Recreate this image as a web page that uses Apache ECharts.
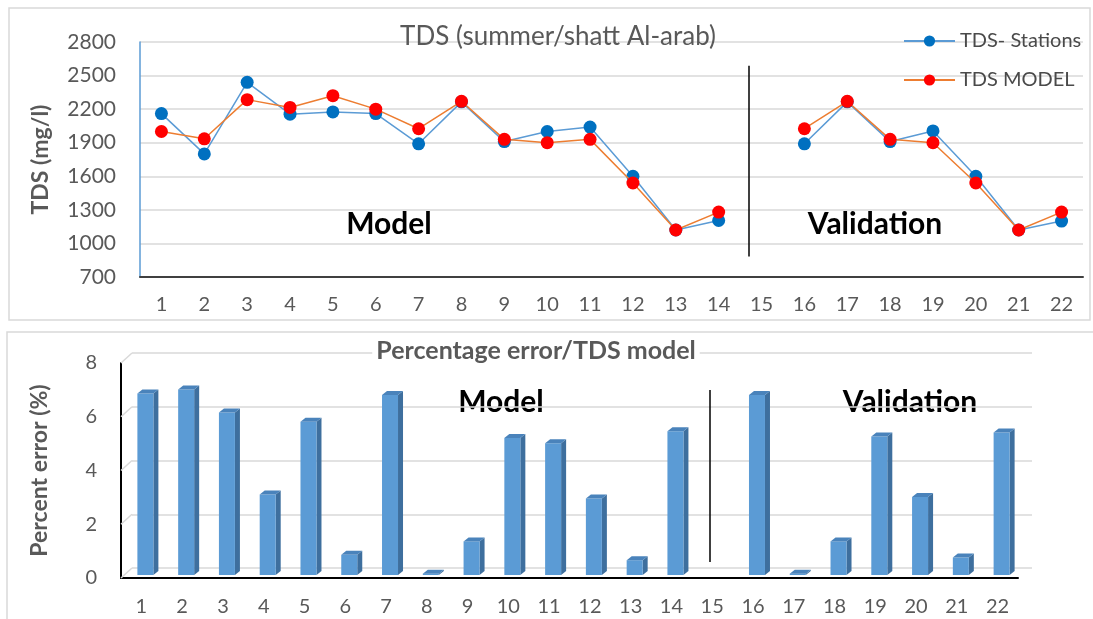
<!DOCTYPE html>
<html>
<head>
<meta charset="utf-8">
<script src="https://cdn.jsdelivr.net/npm/echarts@6/dist/echarts.min.js"></script>
<style>
html,body{margin:0;padding:0;background:#fff;}
#chart{width:1093px;height:619px;}
</style>
</head>
<body>
<div id="chart"></div>
<script>
const categories = ['1','2','3','4','5','6','7','8','9','10','11','12','13','14','15','16','17','18','19','20','21','22'];
const tdsStations = [2160,1800,2440,2155,2175,2160,1890,2265,1910,2000,2040,1600,1120,1205,null,1890,2265,1910,2005,1600,1120,1200];
const tdsModel = [2000,1935,2285,2215,2320,2200,2025,2270,1930,1900,1930,1540,1120,1280,null,2025,2270,1930,1900,1540,1120,1280];
const percentError = [6.75,6.9,6.05,3.0,5.7,0.75,6.7,0.05,1.25,5.1,4.9,2.85,0.55,5.35,null,6.7,0.05,1.25,5.15,2.9,0.65,5.3];
const bottomTicks = [0,2,4,6,8];
const dividerTop = {x: 14.7, from: 883, to: 2588};
const dividerBottom = {x: 14.95, from: 0.6, to: 7.0};

const FONT = 'Lato';
const GRAY = '#595959';
const chart = echarts.init(document.getElementById('chart'), null, {renderer: 'canvas'});

const option = {
  backgroundColor: '#fff',
  animation: false,
  textStyle: {fontFamily: FONT},
  title: [
    {text: 'TDS (summer/shatt Al-arab)', left: 553, top: 19, textAlign: 'center',
     textStyle: {fontFamily: FONT, fontSize: 26, fontWeight: 'normal', color: GRAY}},
    {text: 'Percentage error/TDS model', left: 532, top: 338, textAlign: 'center', backgroundColor: '#fff', padding: [0,4],
     textStyle: {fontFamily: FONT, fontSize: 25, fontWeight: 'bold', color: GRAY}}
  ],
  legend: {
    data: ['TDS- Stations', 'TDS MODEL'],
    orient: 'vertical', left: 898, top: 26,
    itemWidth: 51, itemHeight: 14, itemGap: 19,
    textStyle: {fontFamily: FONT, fontSize: 20, color: '#4a4a4a'}
  },
  grid: [
    {left: 140, right: 10, top: 42, bottom: 342},
    {left: 121, right: 75, top: 363, bottom: 41},
    {left: 132, right: 61, top: 353, bottom: 51}
  ],
  xAxis: [
    {type: 'category', gridIndex: 0, data: categories, boundaryGap: true,
     axisLine: {lineStyle: {color: '#404040', width: 2}}, axisTick: {show: false},
     axisLabel: {fontFamily: FONT, fontSize: 20, color: GRAY, margin: 18, interval: 0}},
    {type: 'value', gridIndex: 0, min: 0.5, max: 22.5, show: false},
    {type: 'category', gridIndex: 1, data: categories, boundaryGap: true,
     axisLine: {lineStyle: {color: '#000', width: 2}}, axisTick: {show: false},
     axisLabel: {fontFamily: FONT, fontSize: 20, color: GRAY, margin: 19, interval: 0}},
    {type: 'value', gridIndex: 1, min: 0.5, max: 22.5, show: false},
    {type: 'category', gridIndex: 2, data: categories, show: false}
  ],
  yAxis: [
    {type: 'value', gridIndex: 0, min: 700, max: 2800, interval: 300,
     name: 'TDS (mg/l)', nameLocation: 'middle', nameGap: 88,
     nameTextStyle: {fontFamily: FONT, fontSize: 23, fontWeight: 'bold', color: GRAY},
     axisLine: {show: true, lineStyle: {color: '#5b9bd5', width: 1.5}}, axisTick: {show: false},
     axisLabel: {fontFamily: FONT, fontSize: 21, color: GRAY, margin: 24, formatter: v => String(v)},
     splitLine: {lineStyle: {color: '#d9d9d9', width: 1.5}}},
    {type: 'value', gridIndex: 1, min: 0, max: 8, interval: 2,
     name: 'Percent error (%)', nameLocation: 'middle', nameGap: 70,
     nameTextStyle: {fontFamily: FONT, fontSize: 23, fontWeight: 'bold', color: GRAY},
     axisLine: {show: true, lineStyle: {color: '#000', width: 2}}, axisTick: {show: false},
     axisLabel: {fontFamily: FONT, fontSize: 20, color: GRAY, margin: 24, formatter: v => String(v)},
     splitLine: {show: false}},
    {type: 'value', gridIndex: 2, min: 0, max: 8, interval: 2, show: true,
     axisLine: {show: false}, axisTick: {show: false}, axisLabel: {show: false},
     splitLine: {show: true, lineStyle: {color: '#d9d9d9', width: 1.5}}}
  ],
  series: [
    {name: 'TDS- Stations', type: 'line', xAxisIndex: 0, yAxisIndex: 0, data: tdsStations,
     symbol: 'circle', symbolSize: 13, z: 3,
     lineStyle: {color: '#5b9bd5', width: 1.5},
     itemStyle: {color: '#0070c0', borderWidth: 0}},
    {name: 'TDS MODEL', type: 'line', xAxisIndex: 0, yAxisIndex: 0, data: tdsModel,
     symbol: 'circle', symbolSize: 13, z: 4,
     lineStyle: {color: '#ed7d31', width: 1.5},
     itemStyle: {color: '#ff0000', borderWidth: 0}},
    {type: 'line', xAxisIndex: 1, yAxisIndex: 0, data: [], silent: true,
     markLine: {silent: true, symbol: 'none', label: {show: false},
       lineStyle: {color: '#000', width: 1.5, type: 'solid'},
       data: [[{coord: [dividerTop.x, dividerTop.from]}, {coord: [dividerTop.x, dividerTop.to]}]]}},
    {type: 'line', xAxisIndex: 3, yAxisIndex: 1, data: [], silent: true,
     markLine: {silent: true, symbol: 'none', label: {show: false},
       lineStyle: {color: '#000', width: 1.5, type: 'solid'},
       data: [[{coord: [dividerBottom.x, dividerBottom.from]}, {coord: [dividerBottom.x, dividerBottom.to]}]]}},
    {type: 'custom', xAxisIndex: 2, yAxisIndex: 1, silent: true, z: 1,
     data: bottomTicks.map(v => [0, v]),
     renderItem: function (params, api) {
       const p = api.coord([0, api.value(1)]);
       const x0 = params.coordSys.x;
       return {type: 'line', shape: {x1: x0, y1: p[1], x2: x0 + 11, y2: p[1] - 10},
               style: {stroke: '#d9d9d9', lineWidth: 1.5}};
     }},
    {type: 'custom', xAxisIndex: 2, yAxisIndex: 1, z: 5,
     data: percentError.map((v, i) => [i, v]),
     renderItem: function (params, api) {
       const v = api.value(1);
       if (v === null || v === undefined || isNaN(v)) return null;
       const top = api.coord([api.value(0), v]);
       const base = api.coord([api.value(0), 0]);
       const w = 16, d = 5, h = 4, sx = 4, sy = -3;
       const xl = top[0] - w / 2 + sx, xr = xl + w;
       const yt = top[1] + sy, yb = base[1] + sy;
       return {type: 'group', children: [
         {type: 'polygon', shape: {points: [[xr, yt], [xr + d, yt - h], [xr + d, yb - h], [xr, yb]]},
          style: {fill: '#3e6f9e'}},
         {type: 'rect', shape: {x: xl, y: yt, width: w, height: yb - yt},
          style: {fill: '#5b9bd5'}},
         {type: 'polygon', shape: {points: [[xl, yt], [xl + d, yt - h], [xr + d, yt - h], [xr, yt]]},
          style: {fill: '#4a83bb'}}
       ]};
     }}
  ],
  graphic: [
    {type: 'rect', shape: {x: 9, y: 8, width: 1081, height: 312}, style: {fill: 'none', stroke: '#d9d9d9', lineWidth: 1.5}, z: -10},
    {type: 'rect', shape: {x: 7, y: 332, width: 1095, height: 300}, style: {fill: 'none', stroke: '#d9d9d9', lineWidth: 1.5}, z: -10},
    {type: 'text', x: 389, y: 224, style: {text: 'Model', font: 'bold 30px Lato', fill: '#000', textAlign: 'center', textVerticalAlign: 'middle'}},
    {type: 'text', x: 875, y: 224, style: {text: 'Validation', font: 'bold 30px Lato', fill: '#000', textAlign: 'center', textVerticalAlign: 'middle'}},
    {type: 'text', x: 501, y: 402, style: {text: 'Model', font: 'bold 30px Lato', fill: '#000', textAlign: 'center', textVerticalAlign: 'middle'}},
    {type: 'text', x: 910, y: 402, style: {text: 'Validation', font: 'bold 30px Lato', fill: '#000', textAlign: 'center', textVerticalAlign: 'middle'}}
  ]
};
chart.setOption(option);
</script>
</body>
</html>
